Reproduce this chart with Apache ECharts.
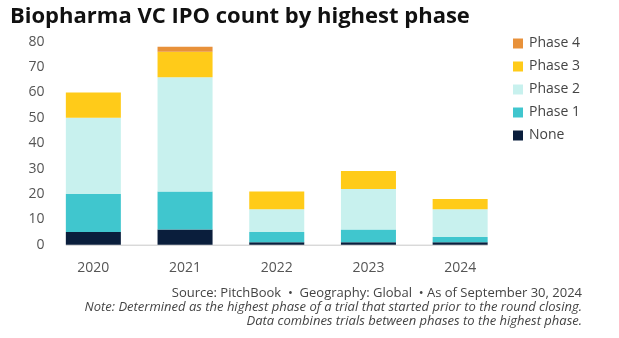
<!DOCTYPE html>
<html>
<head>
<meta charset="utf-8">
<script src="https://cdn.jsdelivr.net/npm/echarts@6/dist/echarts.min.js"></script>
<style>
  html, body { margin: 0; padding: 0; background: #ffffff; }
  #chart { width: 619px; height: 338px; }
</style>
</head>
<body>
<div id="chart"></div>
<script>
// IPO counts per year, split by the highest trial phase reached
const years = ['2020', '2021', '2022', '2023', '2024'];
const noneCounts   = [5, 6, 1, 1, 1];
const phase1Counts = [15, 15, 4, 5, 2];
const phase2Counts = [30, 45, 9, 16, 11];
const phase3Counts = [10, 10, 7, 7, 4];
const phase4Counts = [0, 2, 0, 0, 0];

const seriesNames  = ['None', 'Phase 1', 'Phase 2', 'Phase 3', 'Phase 4'];
const seriesValues = [noneCounts, phase1Counts, phase2Counts, phase3Counts, phase4Counts];
const seriesColors = ['#0a1e3c', '#40c6ce', '#c8f1ee', '#ffcb19', '#e8913a'];

const FONT = '"Open Sans", "Noto Sans", sans-serif';

const chart = echarts.init(document.getElementById('chart'), null, { renderer: 'canvas' });

const option = {
  animation: false,
  backgroundColor: '#ffffff',
  title: {
    text: 'Biopharma VC IPO count by highest phase',
    left: 5,
    top: 1,
    textStyle: { fontFamily: FONT, fontWeight: 'bold', fontSize: 22, color: '#111111' }
  },
  legend: {
    orient: 'vertical',
    left: 508,
    top: 31.5,
    itemWidth: 10,
    itemHeight: 10,
    itemGap: 9,
    icon: 'rect',
    data: ['Phase 4', 'Phase 3', 'Phase 2', 'Phase 1', 'None'],
    textStyle: { fontFamily: FONT, fontSize: 14, lineHeight: 14, color: '#444444', padding: [0, 0, 0, 1] }
  },
  grid: { left: 47.5, right: 113, top: 41.7, bottom: 93.3, containLabel: false },
  xAxis: {
    type: 'category',
    data: years,
    axisLine: { show: false },
    axisTick: { show: false },
    axisLabel: { margin: 16, fontFamily: FONT, fontSize: 14, color: '#555555' }
  },
  yAxis: {
    type: 'value',
    min: 0,
    max: 80,
    interval: 10,
    splitLine: { show: false },
    axisLine: { show: false },
    axisTick: { show: false },
    axisLabel: { margin: 3, fontFamily: FONT, fontSize: 14, color: '#555555' }
  },
  series: seriesNames.map((name, i) => ({
    name: name,
    type: 'bar',
    stack: 'total',
    barWidth: '60%',
    itemStyle: { color: seriesColors[i] },
    data: seriesValues[i]
  }))
};

chart.setOption(option);

// Baseline spanning from the first bar's left edge to the last bar's right edge,
// plus the source and note lines under the plot
function drawExtras() {
  const first = chart.convertToPixel({ xAxisIndex: 0 }, years[0]);
  const last = chart.convertToPixel({ xAxisIndex: 0 }, years[years.length - 1]);
  const base = chart.convertToPixel({ yAxisIndex: 0 }, 0);
  const band = (last - first) / (years.length - 1);
  const half = band * 0.3;
  const footStyle = { fontFamily: FONT, fontSize: 13, fill: '#444444', textAlign: 'right' };
  chart.setOption({
    graphic: [
      {
        type: 'line',
        shape: { x1: first - half, y1: base + 0.5, x2: last + half, y2: base + 0.5 },
        style: { stroke: '#c8c8c8', lineWidth: 1 },
        z: 1
      },
      {
        type: 'text', right: 37, top: 287,
        style: Object.assign({}, footStyle, {
          text: 'Source: PitchBook  \u2022  Geography: Global  \u2022 As of September 30, 2024'
        })
      },
      {
        type: 'text', right: 37, top: 301,
        style: Object.assign({}, footStyle, {
          fontStyle: 'italic',
          text: 'Note: Determined as the highest phase of a trial that started prior to the round closing.'
        })
      },
      {
        type: 'text', right: 37, top: 315,
        style: Object.assign({}, footStyle, {
          fontStyle: 'italic',
          text: 'Data combines trials between phases to the highest phase.'
        })
      }
    ]
  });
}
drawExtras();
</script>
</body>
</html>
